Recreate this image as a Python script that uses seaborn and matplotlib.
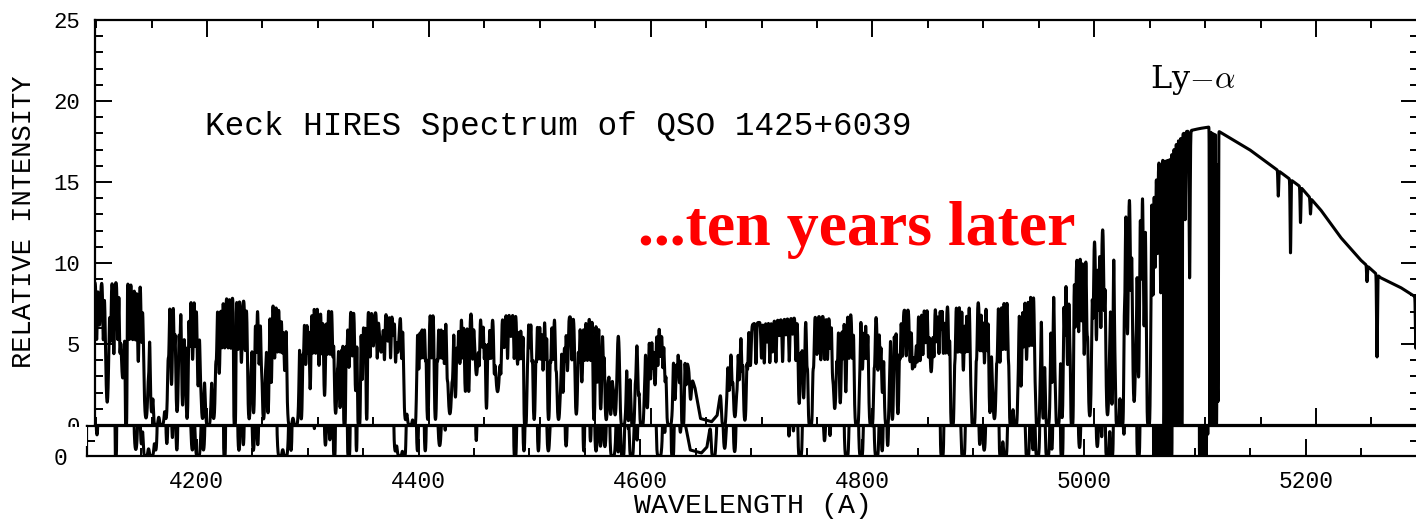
import numpy as np
import pandas as pd
import matplotlib
matplotlib.use("Agg")
import matplotlib.pyplot as plt
import seaborn as sns
from matplotlib.patches import Rectangle
from matplotlib.ticker import MultipleLocator, FixedLocator

# ---------------- data ----------------
# continuum (upper envelope) knots: wavelength (A), relative intensity
cont_wave = [4095, 4130, 4150, 4185, 4221, 4243, 4284, 4329, 4360, 4437, 4491, 4554,
             4565, 4575, 4586, 4597, 4604, 4610, 4617, 4628, 4634, 4640, 4645, 4655,
             4660, 4663, 4667, 4672, 4681, 4694, 4717, 4740, 4753, 4789, 4811, 4829,
             4879, 4924, 4950, 4965, 4978, 4987, 5001, 5014, 5028, 5041, 5055, 5068,
             5075, 5082, 5095, 5104, 5113, 5140, 5168, 5186, 5204, 5222, 5240, 5258,
             5276, 5290, 5310]
cont_flux = [8.8, 8.8, 8.6, 8.1, 7.9, 7.5, 7.5, 7.1, 6.9, 6.9, 6.8, 6.6,
             6.5, 5.6, 5.1, 5.3, 6.2, 6.0, 5.3, 5.2, 3.6, 2.3, 0.4, 0.2,
             0.6, 2.0, 3.0, 4.6, 5.7, 6.3, 6.5, 6.7, 6.7, 6.9, 6.7, 7.1,
             7.5, 7.8, 8.3, 8.9, 9.4, 10.6, 11.6, 12.7, 13.9, 14.9, 16.2, 16.5,
             17.6, 18.1, 18.3, 18.4, 18.1, 17.0, 15.6, 14.7, 13.3, 11.6, 10.2, 9.1,
             8.5, 7.9, 7.3]

# strong absorption lines: centre (A), residual intensity at centre (fraction), width (A)
line_wave = [4103, 4110, 4116, 4124, 4127, 4133, 4138, 4145, 4150, 4154,
             4159, 4163, 4168, 4173, 4178, 4182, 4187, 4192, 4196, 4201,
             4206, 4211, 4216, 4225, 4231, 4238, 4242, 4247, 4251, 4255,
             4258, 4261, 4266, 4270, 4275, 4280, 4285, 4289, 4293, 4298,
             4301, 4306, 4311, 4316, 4320, 4324, 4328,
             4334, 4337, 4340, 4344, 4350, 4357, 4363, 4368, 4372, 4379,
             4383, 4387, 4391, 4395, 4399, 4406, 4410, 4414, 4419, 4424,
             4428, 4433, 4436, 4443, 4448, 4452, 4456, 4462, 4468, 4474,
             4480, 4484, 4487, 4491, 4495, 4499, 4503, 4508, 4512, 4517,
             4521, 4525, 4533, 4538, 4543, 4549, 4552, 4555, 4560, 4564,
             4568,
             4575, 4580, 4584, 4589, 4592, 4597, 4600, 4604, 4609, 4613,
             4617, 4622, 4626, 4629, 4636, 4666, 4671, 4676, 4680, 4685,
             4690, 4700, 4705, 4710, 4716, 4722, 4728, 4734, 4738, 4744,
             4750, 4757, 4762, 4766, 4771, 4776, 4782, 4786, 4791, 4795,
             4799, 4805, 4809, 4813, 4818,
             4823, 4827, 4834, 4838, 4843, 4848, 4853, 4858, 4862, 4866,
             4872, 4877, 4882, 4886, 4891, 4897, 4901, 4906, 4910, 4915,
             4920, 4925, 4929, 4934, 4939, 4944, 4949, 4954, 4958, 4962,
             4967, 4971, 4976, 4980, 4986, 4991, 4996, 5002, 5006, 5012,
             5016, 5021, 5025, 5030, 5036, 5040, 5045, 5049, 5053, 5057,
             5060, 5063, 5065, 5067, 5069, 5071, 5073, 5075, 5077, 5079,
             5082, 5086, 5104.4, 5106.3, 5108.2, 5110.1, 5111.6,
             5166, 5177, 5186, 5195, 5246, 5255, 5290]
line_resid = [0.7, 0.16, 0.5, 0.33, 0.0, 0.6, 0.45, 0.05, 0.1, 0.0,
              0.0, 0.05, 0.3, 0.1, 0.15, 0.05, 0.5, 0.3, 0.05, 0.0,
              0.05, 0.4, 0.6, 0.0, 0.5, 0.05, 0.1, 0.5, 0.05, 0.1,
              0.35, 0.55, 0.6, 0.45, 0.0, 0.0, 0.05, 0.5, 0.3, 0.6,
              0.5, 0.25, 0.6, 0.1, 0.15, 0.0, 0.5,
              0.3, 0.0, 0.4, 0.05, 0.7, 0.65, 0.75, 0.8, 0.65, 0.05,
              0.0, 0.0, 0.5, 0.6, 0.05, 0.05, 0.6, 0.55, 0.1, 0.25,
              0.55, 0.3, 0.3, 0.45, 0.7, 0.15, 0.6, 0.3, 0.7, 0.8,
              0.55, 0.6, 0.0, 0.7, 0.05, 0.6, 0.5, 0.05, 0.6, 0.05,
              0.3, 0.5, 0.1, 0.4, 0.6, 0.05, 0.4, 0.15, 0.05, 0.1,
              0.1,
              0.0, 0.05, 0.0, 0.4, 0.0, 0.2, 0.5, 0.4, 0.7, 0.5,
              0.0, 0.3, 0.5, 0.0, 0.5, 0.0, 0.5, 0.1, 0.5, 0.05,
              0.6, 0.65, 0.8, 0.7, 0.85, 0.85, 0.85, 0.2, 0.25, 0.0,
              0.65, 0.6, 0.7, 0.15, 0.2, 0.3, 0.6, 0.0, 0.5, 0.6,
              0.0, 0.5, 0.3, 0.0, 0.05,
              0.1, 0.6, 0.55, 0.5, 0.55, 0.7, 0.45, 0.7, 0.8, 0.6,
              0.0, 0.6, 0.45, 0.6, 0.0, 0.6, 0.5, 0.1, 0.05, 0.5,
              0.6, 0.0, 0.0, 0.3, 0.5, 0.6, 0.0, 0.05, 0.0, 0.3,
              0.0, 0.05, 0.4, 0.0, 0.55, 0.4, 0.05, 0.45, 0.5, 0.05,
              0.1, 0.0, 0.0, 0.4, 0.1, 0.2, 0.4, 0.0, 0.5, 0.65,
              0.5, 0.0, 0.0, 0.0, 0.0, 0.0, 0.0, 0.0, 0.0, 0.0,
              0.7, 0.5, 0.0, 0.0, 0.0, 0.0, 0.08,
              0.9, 0.7, 0.85, 0.93, 0.9, 0.45, 0.6]
line_sigma = [0.8, 1.2, 0.6, 1.5, 0.5, 0.7, 0.7, 1.5, 1.0, 1.5,
              1.5, 1.2, 0.8, 1.0, 0.8, 0.8, 0.7, 0.8, 1.2, 1.5,
              1.2, 0.8, 0.7, 0.6, 0.7, 1.0, 0.8, 0.7, 1.0, 0.8,
              0.6, 0.6, 0.7, 0.8, 1.5, 1.5, 0.8, 0.7, 0.7, 0.6,
              0.7, 0.8, 0.6, 1.0, 0.8, 0.6, 0.7,
              0.7, 0.8, 0.6, 0.5, 0.7, 1.5, 0.7, 0.7, 1.2, 1.2,
              1.5, 1.0, 0.7, 0.7, 0.8, 0.8, 0.7, 0.7, 1.5, 0.8,
              0.7, 0.8, 0.7, 1.5, 0.7, 0.7, 0.7, 2.0, 0.7, 0.7,
              0.7, 0.7, 0.8, 0.6, 0.8, 0.6, 0.7, 0.8, 0.6, 1.2,
              0.8, 0.7, 1.0, 0.8, 0.7, 0.7, 0.6, 0.8, 1.0, 1.0,
              1.2,
              1.5, 0.8, 1.0, 0.6, 1.2, 0.8, 0.6, 0.8, 0.6, 0.7,
              1.5, 0.8, 0.7, 0.8, 0.8, 1.2, 0.7, 1.2, 0.7, 1.0,
              0.7, 0.6, 0.6, 0.6, 0.5, 0.5, 0.5, 0.8, 0.8, 1.2,
              0.6, 0.6, 0.6, 1.2, 0.8, 0.7, 0.6, 1.2, 0.7, 0.6,
              1.2, 0.7, 0.8, 1.2, 0.8,
              0.8, 0.6, 0.7, 1.5, 0.7, 0.6, 1.2, 0.6, 0.5, 0.7,
              1.0, 0.6, 0.7, 0.6, 1.2, 0.6, 0.7, 0.8, 1.2, 0.7,
              0.6, 1.0, 1.2, 0.8, 0.7, 0.6, 1.2, 0.8, 1.2, 0.7,
              1.2, 0.8, 0.7, 0.8, 0.6, 0.7, 1.2, 0.7, 0.6, 1.2,
              0.8, 1.2, 1.0, 0.7, 1.2, 0.8, 0.7, 1.0, 0.6, 0.5,
              0.6, 0.3, 0.3, 0.3, 0.3, 0.3, 0.3, 0.3, 0.3, 0.3,
              0.4, 0.5, 0.3, 0.3, 0.3, 0.3, 0.3,
              0.4, 0.4, 0.4, 0.4, 0.4, 0.4, 0.4]

# weaker forest lines filling the dense black band under the continuum
weak_wave = [4100.5, 4106.5, 4113, 4119.5, 4121.5, 4130, 4135.5, 4141, 4147.5, 4152,
             4156.5, 4161, 4165.5, 4170.5, 4175.5, 4180, 4184.5, 4189.5, 4194, 4198.5,
             4203.5, 4208.5, 4213.5, 4219, 4221.5, 4228, 4234.5, 4240, 4244.5, 4249,
             4253, 4263.5, 4268, 4272.5, 4277.5, 4282.5, 4287, 4291, 4295.5, 4303.5,
             4308.5, 4313.5, 4318, 4322, 4326, 4331,
             4342, 4347, 4353.5, 4360, 4365.5, 4370, 4375.5, 4381, 4385, 4389,
             4393, 4397, 4402.5, 4408, 4412, 4416.5, 4421.5, 4426, 4430.5, 4439.5,
             4445.5, 4450, 4454, 4459, 4465, 4471, 4477, 4482, 4489, 4493,
             4497, 4501, 4505.5, 4510, 4514.5, 4519, 4523, 4529, 4535.5, 4540.5,
             4546, 4557.5, 4562, 4566,
             4577.5, 4582, 4586.5, 4594.5, 4602, 4606.5, 4611, 4615, 4619.5, 4624,
             4632, 4668.5, 4673.5, 4678, 4682.5, 4687.5, 4695, 4702.5, 4707.5, 4713,
             4719, 4725, 4731, 4736, 4741, 4747, 4753.5, 4759.5, 4764, 4768.5,
             4773.5, 4779, 4784, 4788.5, 4793, 4797, 4802, 4807, 4811, 4815.5,
             4820.5, 4825, 4830.5, 4836, 4840.5, 4845.5, 4850.5, 4855.5, 4860, 4864,
             4869, 4874.5, 4879.5, 4884, 4888.5, 4894, 4899, 4903.5, 4908, 4912.5,
             4917.5, 4922.5, 4927, 4931.5, 4936.5, 4941.5, 4946.5, 4951.5, 4956, 4960,
             4964.5, 4969, 4973.5, 4978, 4983, 4988.5, 4993.5, 4999, 5004, 5009,
             5014, 5018.5, 5023, 5027.5, 5033, 5038, 5042.5, 5047, 5051, 5055]
weak_resid = 0.6
weak_sigma = 0.45
sigma_scale = 0.85

title_text = "Keck HIRES Spectrum of QSO 1425+6039"
overlay_text = "...ten years later"
line_label = r"Ly$-\alpha$"
x_label = "WAVELENGTH (A)"
y_label = "RELATIVE INTENSITY"

# ---------------- build spectrum model ----------------
wave = np.arange(4090.0, 5310.0, 0.08)
cont = np.interp(wave, cont_wave, cont_flux)
tau = np.zeros_like(wave)
for c, r, s in zip(line_wave, line_resid, line_sigma):
    tau += -np.log(max(r, 3e-4)) * np.exp(-0.5 * ((wave - c) / (s * sigma_scale)) ** 2)
for c in weak_wave:
    tau += -np.log(weak_resid) * np.exp(-0.5 * ((wave - c) / weak_sigma) ** 2)
flux = cont * np.exp(-tau)
df = pd.DataFrame({"wave": wave, "flux": flux})

# ---------------- figure ----------------
sns.set_style("ticks", {"axes.edgecolor": "black", "xtick.color": "black",
                        "ytick.color": "black", "text.color": "black",
                        "axes.labelcolor": "black"})
plt.rcParams['font.family'] = ['Liberation Mono', 'DejaVu Sans']
plt.rcParams['mathtext.fontset'] = 'cm'

W, H = 1416, 522
fig = plt.figure(figsize=(W / 100, H / 100), dpi=100)


def rect(l, r, t, b):
    return [l / W, 1 - b / H, (r - l) / W, (b - t) / H]


pxA = 1.109
ax1 = fig.add_axes(rect(95, 1418, 20, 425))
ax2 = fig.add_axes(rect(87, 1418, 426, 456))

for ax in (ax1, ax2):
    sns.lineplot(data=df, x="wave", y="flux", ax=ax, color="black", lw=2.2,
                 estimator=None, sort=False)
    ax.set_xlabel("")
    ax.set_ylabel("")
    for sp in ax.spines.values():
        sp.set_linewidth(1.6)
        sp.set_visible(True)

ax1.set_xlim(4099, 4099 + 1323 / pxA)
ax1.set_ylim(0, 25)
ax1.xaxis.set_major_locator(MultipleLocator(200))
ax1.xaxis.set_minor_locator(MultipleLocator(50))
ax1.yaxis.set_major_locator(MultipleLocator(5))
ax1.yaxis.set_minor_locator(MultipleLocator(1))
ax1.tick_params(which="both", direction="in", top=True, right=True, bottom=True,
                left=True, labelbottom=False, width=1.4)
ax1.tick_params(which="major", length=12, labelsize=16, pad=11)
ax1.tick_params(which="minor", length=6)

ax2.set_xlim(4101, 4101 + 1331 / pxA)
ax2.set_ylim(0, 2.0)
ax2.xaxis.set_major_locator(MultipleLocator(200))
ax2.xaxis.set_minor_locator(MultipleLocator(50))
ax2.yaxis.set_major_locator(FixedLocator([0]))
ax2.yaxis.set_minor_locator(FixedLocator([1]))
ax2.tick_params(which="both", direction="in", top=False, right=True, bottom=True,
                left=True, width=1.4)
ax2.tick_params(which="major", length=12, labelsize=16.5, pad=10)
ax2.tick_params(which="minor", length=6)
ax2.tick_params(axis="y", which="major", length=0, pad=14)

# cover lower half of the upper panel's "0" label (as in the original)
fig.add_artist(Rectangle((40 / W, 1 - 446 / H), 47 / W, 19 / H,
                         transform=fig.transFigure, facecolor="white",
                         edgecolor="none", zorder=10))

fig.text(205 / W, 1 - 135 / H, title_text, fontsize=23.5, ha="left", va="baseline")
fig.text(24 / W, 1 - 222 / H, y_label, rotation=90, fontsize=19.5, ha="center", va="center")
fig.text(753 / W, 1 - 506 / H, x_label, fontsize=20.3, ha="center", va="center")
fig.text(1150 / W, 1 - 88 / H, line_label, fontsize=23, ha="left", va="baseline",
         family=["DejaVu Serif"])
fig.text(638 / W, 1 - 245 / H, overlay_text, fontsize=46, ha="left", va="baseline",
         color="#ff0000", fontweight="bold", family=["Liberation Serif", "DejaVu Serif"])

fig.savefig("out.png", dpi=100)
